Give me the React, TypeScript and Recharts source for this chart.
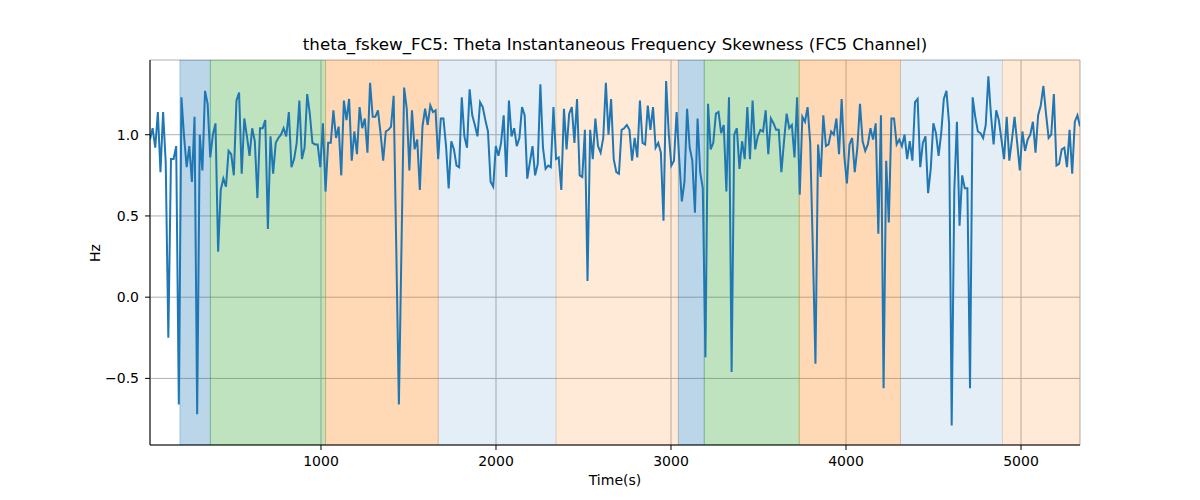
import { LineChart, Line, XAxis, YAxis, CartesianGrid, ReferenceArea } from 'recharts';

// Theta instantaneous frequency skewness, FC5, one sample every ~15 s
const T0 = 23;
const STEP = 14.97;

const SKEW_VALUES = [
  // 23 .. ~670
  0.97, 1.04, 0.92, 1.14, 0.77, 1.14, 0.83, -0.25, 0.85, 0.85, 0.93, -0.66, 1.23, 0.99, 0.8, 0.93, 0.71, 1.11, -0.72, 1.0, 0.78, 1.27,
  1.19, 0.86, 1.0, 1.07, 0.28, 0.66, 0.73, 0.68, 0.9, 0.88, 0.75, 1.21, 1.26, 0.76, 1.1, 0.99, 0.87, 1.04, 0.96, 0.61, 1.04, 1.04,
  // ~680 .. ~1330
  1.09, 0.42, 0.99, 0.76, 0.95, 0.98, 1.0, 1.04, 0.99, 1.14, 0.8, 0.85, 0.95, 1.21, 0.85, 0.92, 1.25, 1.13, 0.95, 0.94, 0.94, 0.8,
  1.07, 0.65, 0.95, 0.95, 1.15, 0.98, 1.05, 0.75, 1.21, 1.09, 1.22, 0.84, 1.02, 0.88, 1.17, 1.04, 1.1, 0.89, 1.32, 1.11, 1.11, 1.15,
  // ~1340 .. ~2000
  1.01, 0.84, 1.02, 1.03, 1.05, 1.24, 0.3, -0.66, 0.32, 1.29, 1.16, 0.78, 1.15, 0.91, 0.97, 0.66, 1.05, 1.16, 1.06, 1.18, 1.14, 1.15,
  0.85, 1.1, 1.1, 0.93, 0.67, 0.96, 0.91, 0.81, 0.8, 1.23, 0.99, 0.92, 1.28, 1.12, 1.06, 0.99, 1.2, 1.17, 1.09, 1.02, 0.71, 0.68,
  // ~2000 .. ~2650
  0.93, 0.87, 0.95, 1.12, 0.74, 1.21, 0.99, 1.04, 0.93, 0.98, 1.17, 1.12, 0.73, 0.83, 0.93, 0.75, 0.82, 1.31, 0.92, 0.79, 0.81, 0.8,
  1.17, 0.85, 0.86, 0.66, 1.16, 0.91, 1.13, 1.17, 0.95, 1.22, 0.75, 0.74, 1.03, 0.1, 1.03, 0.85, 1.1, 0.93, 0.89, 0.98, 1.32, 1.0,
  // ~2660 .. ~3310
  1.22, 0.85, 0.77, 0.76, 1.03, 1.04, 1.06, 1.03, 0.84, 0.98, 0.86, 1.21, 0.95, 0.94, 1.18, 1.03, 1.17, 0.92, 0.95, 0.89, 0.47, 1.33,
  1.01, 0.81, 0.84, 1.14, 0.85, 0.59, 0.71, 1.16, 0.92, 0.84, 0.52, 1.1, 0.77, 0.67, -0.37, 1.19, 0.91, 0.95, 1.13, 1.14, 1.01, 1.06,
  // ~3320 .. ~3970
  0.65, 1.23, -0.46, 1.0, 1.04, 0.79, 0.96, 0.85, 1.17, 0.85, 1.21, 0.91, 0.99, 1.03, 1.02, 1.15, 0.88, 1.1, 1.07, 1.03, 1.03, 0.77,
  0.96, 1.13, 1.04, 1.06, 0.86, 1.23, 0.63, 1.11, 1.08, 1.17, 0.95, 0.3, -0.41, 0.94, 0.74, 1.12, 0.93, 0.94, 1.02, 1.0, 1.1, 0.88,
  // ~3980 .. ~4630
  1.22, 0.87, 0.7, 0.94, 0.98, 0.77, 0.92, 1.19, 0.96, 0.9, 0.94, 1.04, 0.97, 1.07, 0.39, 1.12, -0.56, 0.84, 0.46, 1.1, 1.1, 0.94,
  0.97, 0.93, 1.0, 0.85, 0.96, 0.84, 1.2, 1.22, 0.8, 0.95, 0.99, 0.64, 0.79, 1.07, 1.01, 0.87, 1.01, 1.22, 1.27, 1.07, -0.79, 0.66,
  // ~4640 .. end
  1.08, 0.44, 0.75, 0.67, 0.67, -0.56, 1.23, 1.11, 1.02, 1.01, 0.98, 1.06, 1.36, 1.12, 0.94, 1.15, 1.09, 0.97, 0.85, 1.11, 0.84, 0.97,
  1.11, 0.95, 0.78, 1.02, 0.9, 0.97, 1.0, 1.08, 0.89, 1.12, 1.18, 1.3, 1.13, 0.98, 1.0, 1.25, 0.81, 0.82, 0.91, 0.92, 0.8, 1.03,
  0.76, 1.08, 1.12, 1.05,
];

const TIMES = SKEW_VALUES.map((_, i) => T0 + i * STEP);

// Shaded segments (start, end in seconds) and their colours
const BAND_STARTS = [194, 368, 1026, 1670, 2343, 3042, 3190, 3733, 4311, 4894];
const BAND_ENDS = [368, 1026, 1670, 2343, 3042, 3190, 3733, 4311, 4894, 5337];
const BAND_COLORS = ['#1f77b4', '#2ca02c', '#ff7f0e', '#1f77b4', '#ff7f0e', '#1f77b4', '#2ca02c', '#ff7f0e', '#1f77b4', '#ff7f0e'];
const BAND_ALPHAS = [0.3, 0.3, 0.3, 0.12, 0.16, 0.3, 0.3, 0.3, 0.12, 0.16];

const X_TICKS = [1000, 2000, 3000, 4000, 5000];
const Y_TICKS = [-0.5, 0, 0.5, 1.0];

const FONT = '"DejaVu Sans", sans-serif';

const chartData = TIMES.map((t, i) => ({ t, v: SKEW_VALUES[i] }));

const fmtY = (v: number) => v.toFixed(1).replace('-', '\u2212');

export default function App() {
  return (
    <div style={{ position: 'absolute', left: 0, top: 0, width: 1200, height: 500, background: '#fff', fontFamily: FONT }}>
      <div style={{ position: 'absolute', left: 150, width: 930, top: 35, textAlign: 'center', fontSize: 16.67, color: '#000' }}>
        theta_fskew_FC5: Theta Instantaneous Frequency Skewness (FC5 Channel)
      </div>
      <LineChart width={1200} height={500} data={chartData} margin={{ top: 60, right: 120, bottom: 25, left: 90 }}>
        {BAND_STARTS.map((s, i) => (
          <ReferenceArea
            key={`band-${i}`}
            x1={s}
            x2={BAND_ENDS[i]}
            fill={BAND_COLORS[i]}
            fillOpacity={BAND_ALPHAS[i]}
            stroke={BAND_COLORS[i]}
            strokeOpacity={BAND_ALPHAS[i]}
            ifOverflow="hidden"
          />
        ))}
        <CartesianGrid stroke="#b0b0b0" strokeWidth={1} />
        <XAxis
          dataKey="t"
          type="number"
          domain={[23, 5337]}
          allowDataOverflow
          ticks={X_TICKS}
          tickSize={5}
          tickMargin={6}
          height={30}
          stroke="#000"
          tick={{ fill: '#000', fontSize: 14, fontFamily: FONT }}
        />
        <XAxis xAxisId="top" orientation="top" type="number" domain={[23, 5337]} tick={false} tickLine={false} height={0} stroke="#000" />
        <YAxis
          type="number"
          domain={[-0.91, 1.46]}
          allowDataOverflow
          ticks={Y_TICKS}
          tickFormatter={fmtY}
          tickSize={5}
          tickMargin={6}
          width={60}
          stroke="#000"
          tick={{ fill: '#000', fontSize: 14, fontFamily: FONT }}
        />
        <YAxis yAxisId="right" orientation="right" tick={false} tickLine={false} width={0} stroke="#000" />
        <Line type="linear" dataKey="v" stroke="#1f77b4" strokeWidth={2} dot={false} isAnimationActive={false} />
      </LineChart>
      <div style={{ position: 'absolute', left: 150, width: 930, top: 472, textAlign: 'center', fontSize: 14, color: '#000' }}>
        Time(s)
      </div>
      <div
        style={{
          position: 'absolute',
          left: 95,
          top: 253,
          transform: 'translate(-50%, -50%) rotate(-90deg)',
          fontSize: 14,
          color: '#000',
        }}
      >
        Hz
      </div>
    </div>
  );
}
